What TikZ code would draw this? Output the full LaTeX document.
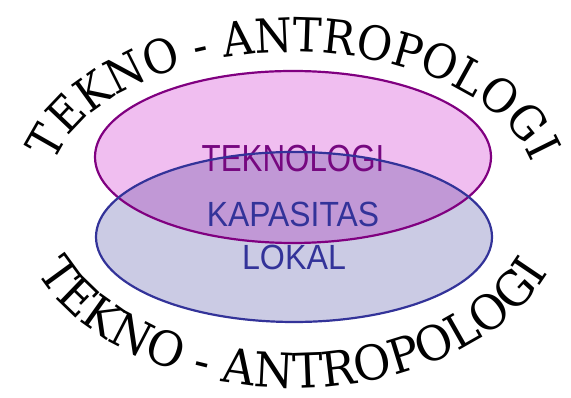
\documentclass[tikz,border=0pt]{standalone}
\usepackage{fontspec}
\usetikzlibrary{decorations.text}
\setmainfont{Liberation Sans}
\newfontfamily\slabtop[FakeStretch=0.92]{DejaVu Serif}
\newfontfamily\slabbot[FakeStretch=0.95]{DejaVu Serif}
\definecolor{pinkfill}{RGB}{240,190,240}
\definecolor{bluefill}{RGB}{203,203,228}
\definecolor{mixfill}{RGB}{193,152,214}
\definecolor{pinkline}{RGB}{128,0,128}
\definecolor{blueline}{RGB}{51,51,153}
\definecolor{tekcol}{RGB}{118,8,128}
\tikzset{
  lbl/.style={inner sep=0pt, outer sep=0pt, anchor=center},
  arctop/.style={decorate, decoration={text along path, text align=center,
     text={|\fontsize{47}{47}\selectfont\slabtop|TEKNO - ANTROPOLOGI}}},
  arcbot/.style={decorate, decoration={text along path, text align=center,
     text={|\fontsize{48}{48}\selectfont\slabbot|TEKNO - ANTROPOLOGI}}}
}
\begin{document}
\begin{tikzpicture}[x=1pt,y=1pt]
\useasboundingbox (0,0) rectangle (571,398);
% fills
\fill[pinkfill] (293,241) ellipse[x radius=198, y radius=86];
\fill[bluefill] (294,161) ellipse[x radius=198, y radius=85];
\begin{scope}
  \clip (293,241) ellipse[x radius=198, y radius=86];
  \fill[mixfill] (294,161) ellipse[x radius=198, y radius=85];
\end{scope}
% labels
\node[lbl, text=tekcol] (tek) at (293,239.5) {\scalebox{0.83}[1]{\fontsize{37.7}{38}\selectfont TEKNOLOGI}};
\node[lbl, text=blueline] (kap) at (293,184) {\scalebox{0.91}[1]{\fontsize{35}{35}\selectfont KAPASITAS}};
\node[lbl, text=blueline] (lok) at (294,140.5) {\scalebox{0.92}[1]{\fontsize{35}{35}\selectfont LOKAL}};
% borders
\draw[pinkline, line width=2.2pt] (293,241) ellipse[x radius=198, y radius=86];
\draw[blueline, line width=2.2pt] (294,161) ellipse[x radius=198, y radius=85];
% curved texts
\path[arctop] (293,204) ++(200:245 and 142) arc[start angle=200, end angle=-20, x radius=245, y radius=142];
\path[arcbot] (293,194) ++(150:275 and 184) arc[start angle=150, end angle=390, x radius=275, y radius=184];
\end{tikzpicture}
\end{document}
